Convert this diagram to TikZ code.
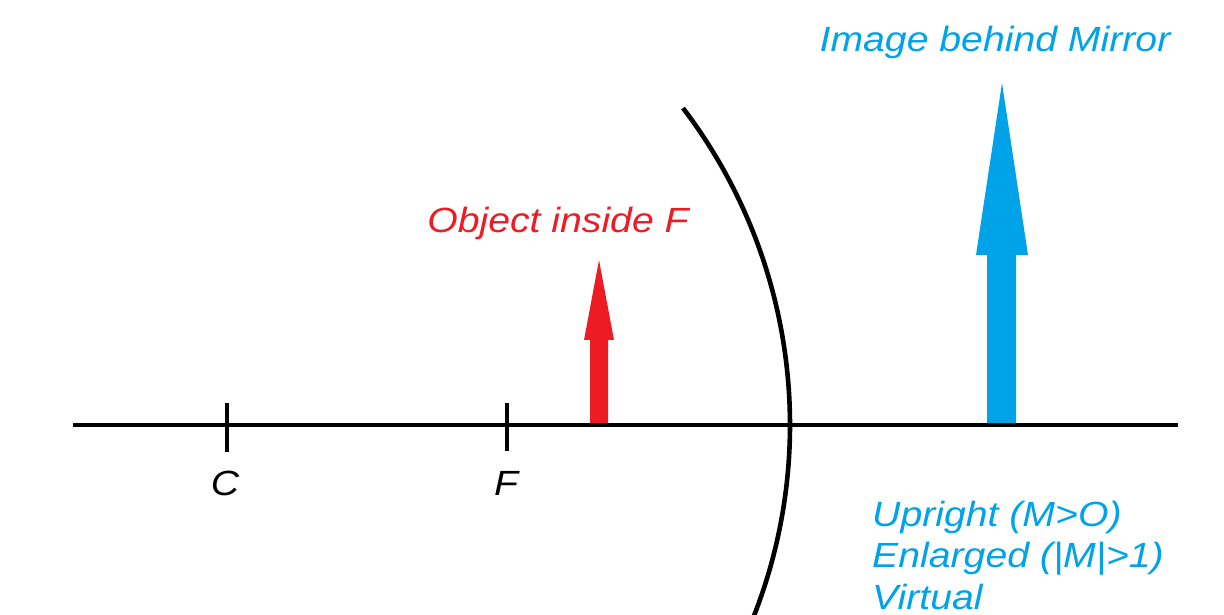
\documentclass[tikz,border=0pt]{standalone}
\usepackage{fontspec}
\setmainfont{Liberation Sans}
\definecolor{paintred}{HTML}{ED1C24}
\definecolor{paintblue}{HTML}{00A2E8}
\tikzset{
  lbl/.style={inner sep=0pt, font=\fontsize{35}{42}\selectfont\itshape, xscale=1.12, transform shape},
  blk/.style={line width=4.6pt, black},
}
\begin{document}
\begin{tikzpicture}[x=1pt,y=1pt]
\useasboundingbox (0,0) rectangle (1224,614);
\clip (0,0) rectangle (1224,614);
% mirror
\draw[blk] (267,189) ++(37.3:523) arc[start angle=37.3, end angle=-25, radius=523];
% axis
\coordinate (axL) at (73,189);
\coordinate (axR) at (1178,189);
\draw[blk] (axL) -- (axR);
% ticks
\coordinate (ct) at (227,211);
\coordinate (cb) at (227,162);
\coordinate (ft) at (507,211);
\coordinate (fb) at (507,163);
\draw[blk] (ct) -- (cb);
\draw[blk] (ft) -- (fb);
% object arrow
\fill[paintred] (590,191) -- (590,274) -- (584,274) -- (599,354) -- (614,274) -- (608,274) -- (608,191) -- cycle;
% image arrow
\fill[paintblue] (987,191) -- (987,359) -- (976,359) -- (1002,531) -- (1028,359) -- (1016,359) -- (1016,191) -- cycle;
% labels
\node[lbl, anchor=base] (lc) at (225,119) {C};
\node[lbl, anchor=base] (lf) at (506,119) {F};
\node[lbl, anchor=base, text=paintred] (obj) at (558,381) {Object inside F};
\node[lbl, anchor=base, text=paintblue] (img) at (995,562) {Image behind Mirror};
\node[lbl, anchor=base west, text=paintblue] (p1) at (872,88) {Upright (M>O)};
\node[lbl, anchor=base west, text=paintblue] (p2) at (872,47) {Enlarged (|M|>1)};
\node[lbl, anchor=base west, text=paintblue] (p3) at (872,5) {Virtual};
\end{tikzpicture}
\end{document}
